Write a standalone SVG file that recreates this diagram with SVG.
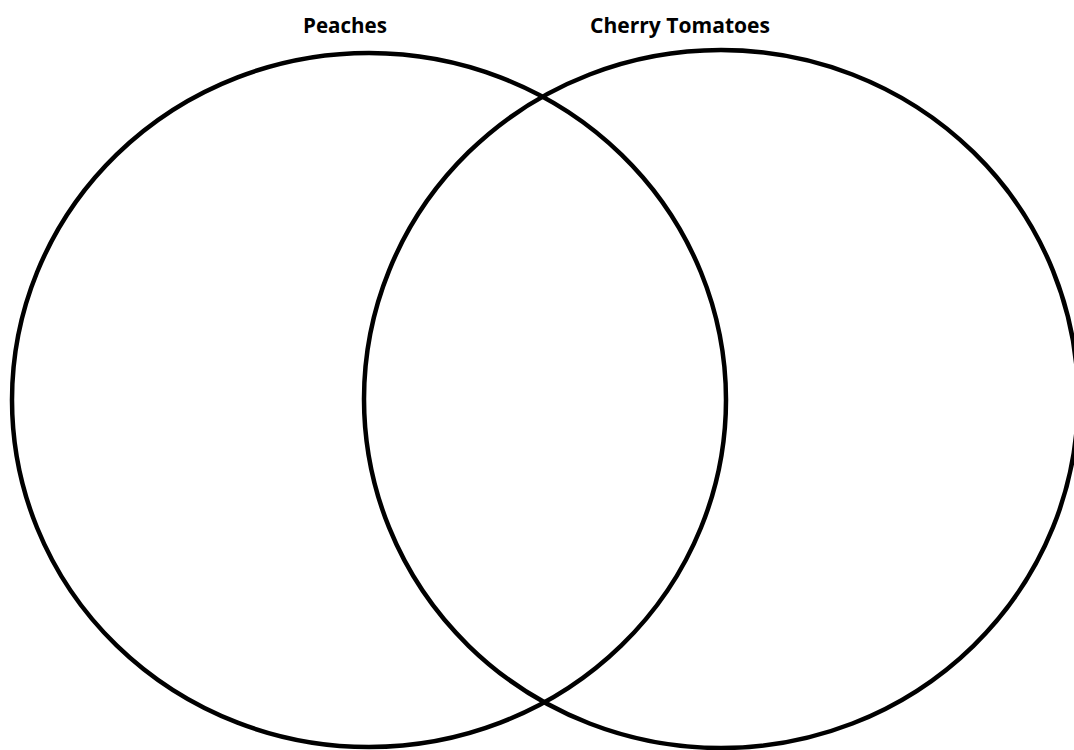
<svg xmlns="http://www.w3.org/2000/svg" width="1074" height="750" viewBox="0 0 1074 750">
<style>
.c{fill:none;stroke:#000;stroke-width:4.5}
.t{font-family:"Open Sans","Liberation Sans",Arial,sans-serif;font-weight:bold;font-size:21px;fill:#000;text-anchor:middle}
</style>
<rect width="1074" height="750" fill="#fff"/>
<g id="peaches">
<ellipse class="c" cx="369" cy="400" rx="357" ry="347"/>
<text class="t" x="345" y="33" textLength="84" lengthAdjust="spacingAndGlyphs">Peaches</text>
</g>
<g id="cherry-tomatoes">
<ellipse class="c" cx="721" cy="399" rx="357" ry="349"/>
<text class="t" x="680" y="33" textLength="180" lengthAdjust="spacingAndGlyphs">Cherry Tomatoes</text>
</g>
<g id="connectors"/>
</svg>
